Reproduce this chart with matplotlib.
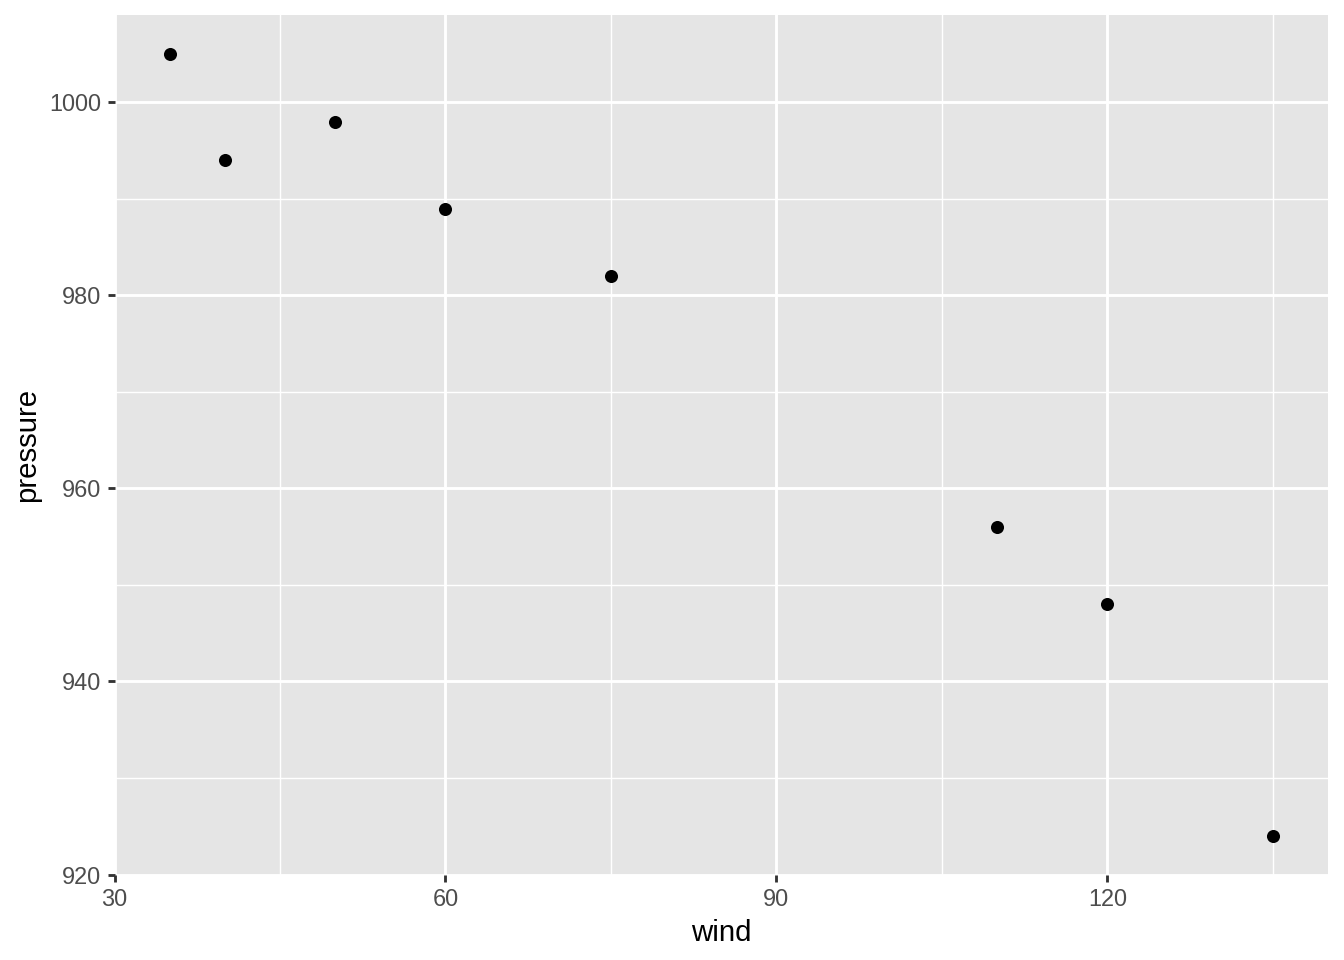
import matplotlib
matplotlib.use("Agg")
import matplotlib.pyplot as plt
from matplotlib.ticker import MultipleLocator

wind = [35, 40, 50, 60, 75, 110, 120, 135]
pressure = [1005, 994, 998, 989, 982, 956, 948, 924]
x_ticks = [30, 60, 90, 120]
y_ticks = [920, 940, 960, 980, 1000]

plt.rcParams['font.family'] = ['Liberation Sans', 'DejaVu Sans']

fig = plt.figure(figsize=(7, 5), dpi=192)
ax = fig.add_axes([114.5/1344, 1 - 875/960, (1328-114.5)/1344, (875-15)/960])
ax.set_facecolor('#E5E5E5')

ax.scatter(wind, pressure, s=24, color='black', zorder=3, linewidths=0)

ax.set_xlim(30, 140)
ax.set_ylim(919.95, 1009.05)
ax.set_xticks(x_ticks)
ax.set_yticks(y_ticks)
ax.xaxis.set_minor_locator(MultipleLocator(15))
ax.yaxis.set_minor_locator(MultipleLocator(10))

ax.grid(which='major', color='white', linewidth=1.07)
ax.grid(which='minor', color='white', linewidth=0.53)
ax.set_axisbelow(True)
for s in ax.spines.values():
    s.set_visible(False)

ax.tick_params(which='major', length=2.75, width=1.07, color='#333333',
               labelsize=8.8, labelcolor='#4D4D4D', pad=2.2)
ax.tick_params(which='minor', length=0)

ax.set_xlabel('wind', fontsize=11, color='black', labelpad=3)
ax.set_ylabel('pressure', fontsize=11, color='black', labelpad=3)

fig.savefig('out.png', dpi=192)
